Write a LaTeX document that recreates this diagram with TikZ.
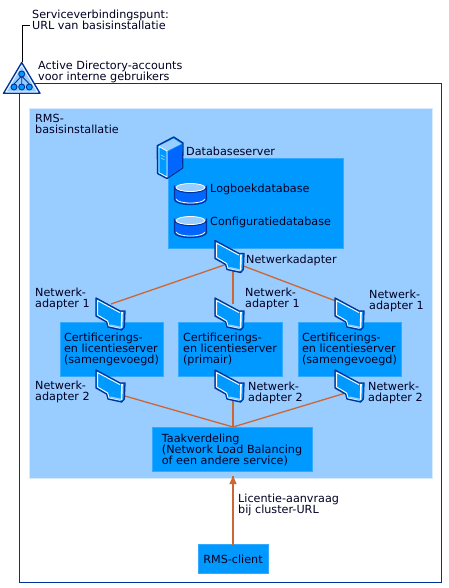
\documentclass[tikz,border=0pt]{standalone}
\usepackage{fontspec}
\setmainfont{DejaVu Sans}
\definecolor{navy}{HTML}{003399}
\definecolor{panel}{HTML}{99CCFF}
\definecolor{boxblue}{HTML}{0099FF}
\definecolor{boxedge}{HTML}{33AAFF}
\definecolor{iconblue}{HTML}{0A7AF5}
\definecolor{iconside}{HTML}{0066FF}
\definecolor{wire}{HTML}{CC6633}
\definecolor{ink}{HTML}{000022}
\tikzset{
  lbl/.style={anchor=west,inner sep=0pt,align=left,text=ink,font=\fontsize{11.2}{11}\selectfont},
  bluebox/.style={draw=boxedge,fill=boxblue,line width=1pt,outer sep=0pt,anchor=north west,inner sep=0pt,align=left,text=ink,font=\fontsize{11.2}{11}\selectfont},
  wireline/.style={draw=wire,line width=1.3pt},
  adapter/.pic={
    \path[fill=boxblue,draw=navy,line width=1.3pt,line join=round]
      (0,0)--(24,13)--(29,13)--(28.3,29)--(25.7,32)--(12,29)--(10.7,24)--(0,18)--cycle;
    \draw[white,line width=.9pt,line join=round] (24,14.6)--(1.6,2.6)--(1.6,17)--(11.7,23)--(13,27.8)--(24.5,30.2);
    \draw[white,line width=1.6pt] (26,14.2)--(25.5,30);
    \fill[panel] (15,26.5)--(24.5,28.6)--(24.5,30.2)--(13,27.8)--cycle;
  },
  dbcyl/.pic={
    \path[fill=iconside,draw=navy,line width=1.2pt] (0,5.5)--(0,18) arc[start angle=180,end angle=0,x radius=16,y radius=5]--(32,5.5) arc[start angle=0,end angle=180,x radius=16,y radius=5.5]--cycle;
    \draw[white,line width=.8pt] (1.8,17.5) arc[start angle=180,end angle=0,x radius=14.2,y radius=4];
    \path[fill=panel,draw=white,line width=.8pt] (16,6) ellipse[x radius=14.4,y radius=4];
  }
}
\begin{document}
\begin{tikzpicture}[x=1pt,y=-1pt]
\useasboundingbox (0,0) rectangle (449,588);
\fill[white] (0,0) rectangle (449,588);
% outer frame
\draw[navy,line width=1pt] (19.5,83.5) rectangle (441,582);
% panel
\fill[panel] (29,108) rectangle (432,478);
\draw[white!60!panel,line width=.8pt] (29,108) rectangle (432,478);
% boxes
\node[bluebox,minimum width=175,minimum height=90] (db) at (168,158.5) {};
\node[bluebox,minimum width=103,minimum height=54,inner xsep=4pt] (c1) at (60,322) {Certificerings-\\en licentieserver\\(samengevoegd)};
\node[bluebox,minimum width=104,minimum height=54,inner xsep=4pt] (c2) at (178,322) {Certificerings-\\en licentieserver\\(primair)};
\node[bluebox,minimum width=103,minimum height=54,inner xsep=4pt] (c3) at (298,322) {Certificerings-\\en licentieserver\\(samengevoegd)};
\node[bluebox,minimum width=160,minimum height=44,inner xsep=5pt] (lb) at (152,427.5) {Taakverdeling\\(Network Load Balancing\\of een andere service)};
\node[bluebox,minimum width=70,minimum height=29,align=center] (cl) at (198,544.5) {RMS-client};
% adapter anchors
\coordinate (na) at (233,262);
\coordinate (t1) at (111,304);
\coordinate (t2) at (233,304);
\coordinate (t3) at (349,306);
\coordinate (b1) at (111,392);
\coordinate (b2) at (233,392);
\coordinate (b3) at (349,392);
\coordinate (lbj) at (233,427);
\coordinate (tip) at (233,476);
% connectors
\draw[wireline] (na)--(t1);
\draw[wireline] (na)--(t2);
\draw[wireline] (na)--(t3);
\draw[wireline] (b1)--(lbj);
\draw[wireline] (b2)--(lbj);
\draw[wireline] (b3)--(lbj);
\draw[wire,line width=1.8pt] (cl.north)--(tip);
\fill[wire] (tip)--(229.3,484)--(236.7,484)--cycle;
% adapters
\pic at (215,240.5) {adapter};
\pic at (96,298) {adapter};
\pic at (215,298) {adapter};
\pic at (335,298) {adapter};
\pic at (96,370) {adapter};
\pic at (215,370) {adapter};
\pic at (335,370) {adapter};
% databases
\pic at (174.5,181.5) {dbcyl};
\pic at (174.5,214.5) {dbcyl};
% server
\path[fill=boxblue,draw=navy,line width=1.3pt,line join=round] (173.7,137)--(183,143)--(182.7,168)--(167,178.5)--(157.5,173.5)--(157.3,145.7)--cycle;
\fill[panel] (159,146)--(173.5,138.6)--(181.5,143.8)--(167.2,151)--cycle;
\fill[iconside] (167.8,151.8)--(182,144.3)--(181.7,167.5)--(167.8,176.7)--cycle;
\draw[white,line width=.8pt,line join=round] (159,146.5)--(167,151)--(167,177)--(159,172.7)--cycle;
\draw[panel,line width=.7pt] (161,155)--(164.5,156.8) (161,158)--(164.5,159.8);
% top triangle
\draw[black,line width=1pt] (22,62)--(22,26)--(30,26);
\path[fill=panel,draw=navy,line width=1.3pt,line join=round] (21.7,62.5)--(40,93.3)--(3.5,93.3)--cycle;
\draw[white,line width=.7pt,line join=round] (21.7,65.5)--(37.5,92)--(6,92)--cycle;
\draw[navy,line width=.9pt] (21.7,74)--(21.7,87) (21.7,76)--(14,84) (21.7,76)--(29.3,84);
\foreach \p in {(21.7,74),(14,87),(21.7,87),(29.3,87)}{\path[fill=boxblue,draw=navy,line width=.9pt] \p circle (3);}
% labels
\node[lbl] (l1) at (32,19.5) {Serviceverbindingspunt:\\URL van basisinstallatie};
\node[lbl] (l2) at (38,71.5) {Active Directory-accounts\\voor interne gebruikers};
\node[lbl] (l3) at (35,123.5) {RMS-\\basisinstallatie};
\node[lbl] (l4) at (186,151) {Databaseserver};
\node[lbl] (l5) at (210,189) {Logboekdatabase};
\node[lbl] (l6) at (210,222) {Configuratiedatabase};
\node[lbl] (l7) at (246,260) {Netwerkadapter};
\node[lbl] (l8) at (35,298.5) {Netwerk-\\adapter 1};
\node[lbl] (l9) at (245,298.5) {Netwerk-\\adapter 1};
\node[lbl] (l10) at (369,300.5) {Netwerk-\\adapter 1};
\node[lbl] (l11) at (35,391.5) {Netwerk-\\adapter 2};
\node[lbl] (l12) at (248,392.5) {Netwerk-\\adapter 2};
\node[lbl] (l13) at (368,392.5) {Netwerk-\\adapter 2};
\node[lbl] (l14) at (238,504.5) {Licentie-aanvraag\\bij cluster-URL};
\end{tikzpicture}
\end{document}
